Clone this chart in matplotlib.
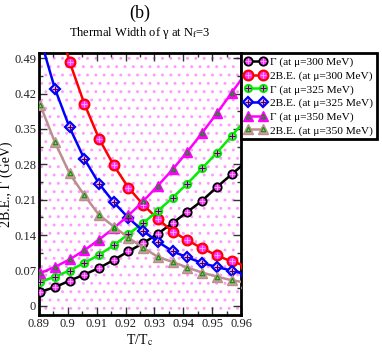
import matplotlib
matplotlib.use("Agg")
import matplotlib.pyplot as plt
from matplotlib.patches import Rectangle
from matplotlib.ticker import MultipleLocator, FuncFormatter

plt.rcParams["font.family"] = ["Liberation Serif", "DejaVu Serif"]
plt.rcParams["mathtext.fontset"] = "stix"
plt.rcParams["hatch.linewidth"] = 0.9

# T/Tc grid (same for every curve), last point lies just past the axis edge
t = [0.8904, 0.8955, 0.9006, 0.9057, 0.9108, 0.9159, 0.9210, 0.9261,
     0.9312, 0.9363, 0.9414, 0.9465, 0.9516, 0.9567, 0.9618]

gamma_300 = [0.028, 0.037, 0.050, 0.062, 0.075, 0.091, 0.108, 0.124,
             0.143, 0.164, 0.186, 0.208, 0.235, 0.260, 0.285]
be_300 = [None, 0.590, 0.483, 0.400, 0.331, 0.278, 0.234, 0.200,
          0.172, 0.147, 0.130, 0.114, 0.100, 0.088, 0.079]
gamma_325 = [0.047, 0.058, 0.070, 0.085, 0.101, 0.120, 0.142, 0.164,
             0.188, 0.214, 0.242, 0.272, 0.303, 0.336, 0.370]
be_325 = [0.530, 0.430, 0.353, 0.291, 0.242, 0.205, 0.174, 0.148,
          0.127, 0.108, 0.096, 0.085, 0.077, 0.070, 0.062]
gamma_350 = [0.065, 0.077, 0.092, 0.110, 0.131, 0.154, 0.179, 0.207,
             0.238, 0.270, 0.305, 0.342, 0.381, 0.421, 0.462]
be_350 = [0.398, 0.324, 0.262, 0.219, 0.180, 0.157, 0.135, 0.115,
          0.097, 0.087, 0.076, 0.066, 0.058, 0.051, 0.046]

labels = ["Γ (at μ=300 MeV)", "2B.E. (at μ=300 MeV)",
          "Γ (at μ=325 MeV)", "2B.E. (at μ=325 MeV)",
          "Γ (at μ=350 MeV)", "2B.E. (at μ=350 MeV)"]

fig = plt.figure(figsize=(3.82, 3.54), dpi=100)
ax = fig.add_axes([0.102, 0.110, 0.529, 0.740])

# dotted pink background
ax.add_patch(Rectangle((0, 0), 1, 1, transform=ax.transAxes, facecolor="white",
                       edgecolor="#ff99ff", hatch="..", lw=0, zorder=0))


def series(y, lc, main, over):
    x = [a for a, b in zip(t, y) if b is not None]
    y = [b for b in y if b is not None]
    l1, = ax.plot(x, y, color=lc, lw=1.8, zorder=3, **main)
    l2, = ax.plot(x, y, ls="none", zorder=4, **over)
    return (l1, l2)


handles = []
handles.append(series(gamma_300, "black",
                      dict(marker="o", ms=6, mfc="#ff33ff", mec="black", mew=1.3),
                      dict(marker="+", ms=4, mec="#ffb0ff", mew=0.6)))
handles.append(series(be_300, "red",
                      dict(marker="o", ms=7, mfc="#ff33ff", mec="red", mew=1.6),
                      dict(marker="+", ms=4.5, mec="#ffb0ff", mew=0.6)))
handles.append(series(gamma_325, "#00ee00",
                      dict(marker="o", ms=5, mfc="#ffd0ff", mec="#00ee00", mew=1.6),
                      dict(marker="+", ms=4.5, mec="#550055", mew=0.9)))
handles.append(series(be_325, "blue",
                      dict(marker="D", ms=5, mfc="#ffd0ff", mec="blue", mew=1.6),
                      dict(marker="+", ms=4.5, mec="#550055", mew=0.9)))
handles.append(series(gamma_350, "#ff00ff",
                      dict(marker="^", ms=6.5, mfc="#ff00ff", mec="#ff00ff", mew=1),
                      dict(marker="^", ms=3.2, mfc="none", mec="#009900", mew=0.8)))
handles.append(series(be_350, "#bc8f8f",
                      dict(marker="^", ms=6.5, mfc="#c8a0a0", mec="#bc8f8f", mew=1),
                      dict(marker="^", ms=3.2, mfc="none", mec="#009900", mew=0.8)))

ax.set_xlim(0.89, 0.96)
ax.set_ylim(-0.018, 0.50)
ax.xaxis.set_major_locator(MultipleLocator(0.01))
ax.xaxis.set_minor_locator(MultipleLocator(0.005))
ax.yaxis.set_major_locator(MultipleLocator(0.07))
ax.yaxis.set_minor_locator(MultipleLocator(0.035))
ax.xaxis.set_major_formatter(FuncFormatter(lambda v, p: f"{v:.2f}".rstrip("0").rstrip(".")))
ax.yaxis.set_major_formatter(FuncFormatter(lambda v, p: "0" if abs(v) < 1e-9 else f"{v:.2f}"))
ax.tick_params(which="both", direction="in", top=True, right=True, labelsize=9,
               colors="#333333", labelcolor="#222222", pad=2)
ax.tick_params(which="major", length=6, width=1)
ax.tick_params(which="minor", length=3, width=1)
for s in ax.spines.values():
    s.set_linewidth(2)

ax.set_xlabel("T/T$_{\\rm c}$", fontsize=10, labelpad=2)
ax.set_ylabel("2B.E., Γ (GeV)", fontsize=10, labelpad=1)

fig.text(0.366, 0.962, "(b)", ha="center", va="center", fontsize=13)
fig.text(0.366, 0.908, "Thermal Width of γ at N$_{\\rm f}$=3",
         ha="center", va="center", fontsize=9)

leg = fig.legend(handles, labels, loc="upper left", bbox_to_anchor=(0.631, 0.850),
                 fontsize=8.2, numpoints=2, handlelength=1.9, handletextpad=0.3,
                 borderpad=0.35, labelspacing=0.3, borderaxespad=0, fancybox=False,
                 framealpha=1, edgecolor="black")
leg.get_frame().set_linewidth(2)

fig.savefig("out.png", dpi=100)
